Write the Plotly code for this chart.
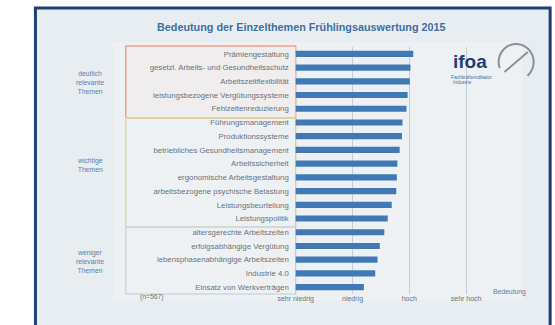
import plotly.graph_objects as go
import math

W, H = 555, 325

categories = [
    "Prämiengestaltung",
    "gesetzl. Arbeits- und Gesundheitsschutz",
    "Arbeitszeitflexibilität",
    "leistungsbezogene Vergütungssysteme",
    "Fehlzeitenreduzierung",
    "Führungsmanagement",
    "Produktionssysteme",
    "betriebliches Gesundheitsmanagement",
    "Arbeitssicherheit",
    "ergonomische Arbeitsgestaltung",
    "arbeitsbezogene psychische Belastung",
    "Leistungsbeurteilung",
    "Leistungspolitik",
    "altersgerechte Arbeitszeiten",
    "erfolgsabhängige Vergütung",
    "lebensphasenabhängige Arbeitszeiten",
    "Industrie 4.0",
    "Einsatz von Werkverträgen",
]
values = [3.07, 3.02, 3.01, 2.97, 2.95, 2.88, 2.87, 2.83, 2.79, 2.78,
          2.77, 2.69, 2.62, 2.56, 2.48, 2.44, 2.40, 2.20]
tick_vals = [1, 2, 3, 4]
tick_text = ["sehr niedrig", "niedrig", "hoch", "sehr hoch"]
group_labels = ["deutlich<br>relevante<br>Themen", "wichtige<br>Themen", "weniger<br>relevante<br>Themen"]
title_text = "Bedeutung der Einzelthemen Frühlingsauswertung 2015"


def px(x):
    return x / W


def py(y):
    return 1 - y / H


FONT = "Liberation Sans, Arial, sans-serif"

fig = go.Figure()
fig.add_trace(go.Bar(
    x=[v - 1 for v in values], y=categories, base=1, orientation="h",
    marker=dict(color="#4079b6", line=dict(width=0)),
    width=0.45, hoverinfo="skip",
))

x0_px, x1_px = 286, 520
unit = 58.5
r0 = 1 - (288 - x0_px) / unit
r1 = 1 + (x1_px - 288) / unit

fig.update_layout(
    width=W, height=H, margin=dict(l=0, r=0, t=0, b=0),
    paper_bgcolor="white", plot_bgcolor="rgba(0,0,0,0)",
    showlegend=False, font=dict(family=FONT, color="#6b7178", size=7),
    xaxis=dict(domain=[px(x0_px), px(x1_px)], range=[r0, r1],
               tickvals=tick_vals, ticktext=tick_text,
               showgrid=True, gridcolor="#c6ced5", gridwidth=1,
               zeroline=False, showline=False, ticks="",
               ticklabelstandoff=-1,
               tickfont=dict(size=7, color="#6b7178")),
    yaxis=dict(domain=[py(294), py(47)], autorange="reversed",
               categoryorder="array", categoryarray=categories,
               showgrid=False, zeroline=False, showline=False, ticks="",
               ticklabelstandoff=4, tickfont=dict(size=7.8, color="#6b7178")),
)

cx, cy, rr = 515, 62, 18
pts = []
for k in range(0, 41):
    ang = math.radians(200 - k * (250 / 40))
    pts.append((px(cx + rr * math.cos(ang)), py(cy - rr * math.sin(ang))))
path = "M " + " L ".join(f"{x:.5f},{y:.5f}" for x, y in pts)

shapes = [
    dict(type="rect", xref="paper", yref="paper", x0=px(20), x1=px(550), y0=py(340), y1=py(8),
         line=dict(color="#1d3f74", width=3), fillcolor="#e8edf1", layer="below"),
    dict(type="rect", xref="paper", yref="paper", x0=px(100), x1=px(522), y0=py(300), y1=py(42),
         line=dict(width=0), fillcolor="#edf1f4", layer="below"),
    dict(type="rect", xref="paper", yref="paper", x0=px(113), x1=px(288), y0=py(118), y1=py(46),
         line=dict(color="#e7a38f", width=1.5), fillcolor="rgba(250,228,222,0.25)", layer="below"),
    dict(type="rect", xref="paper", yref="paper", x0=px(113), x1=px(288), y0=py(227), y1=py(118),
         line=dict(color="#dcdc9c", width=1.5), fillcolor="rgba(0,0,0,0)", layer="below"),
    dict(type="rect", xref="paper", yref="paper", x0=px(113), x1=px(288), y0=py(294), y1=py(227),
         line=dict(color="#cbd8e2", width=1.5), fillcolor="rgba(0,0,0,0)", layer="below"),
    dict(type="path", xref="paper", yref="paper", path=path,
         line=dict(color="#8a9098", width=2)),
    dict(type="line", xref="paper", yref="paper", x0=px(503), x1=px(527), y0=py(72), y1=py(52),
         line=dict(color="#8a9098", width=2)),
]
fig.update_layout(shapes=shapes)

ann = [
    dict(text="<b>" + title_text + "</b>", x=px(294), y=py(27), font=dict(size=10.8, color="#3d6fa6")),
    dict(text=group_labels[0], x=px(76), y=py(83), font=dict(size=6.8, color="#5a7fa8")),
    dict(text=group_labels[1], x=px(76), y=py(165), font=dict(size=6.8, color="#5a7fa8")),
    dict(text=group_labels[2], x=px(76), y=py(261), font=dict(size=6.8, color="#5a7fa8")),
    dict(text="(n=567)", x=px(140), y=py(297), font=dict(size=6.8, color="#6b7178")),
    dict(text="Bedeutung", x=px(508), y=py(292), font=dict(size=6.8, color="#5a7fa8")),
    dict(text="<b>ifoa</b>", x=px(467), y=py(61), font=dict(size=19, color="#1d3f74")),
    dict(text="Fachkräfteindikator", x=px(469), y=py(77), font=dict(size=4.8, color="#3d6fa6")),
    dict(text="Industrie", x=px(460), y=py(83), font=dict(size=4.8, color="#3d6fa6")),
]
for a in ann:
    a.update(xref="paper", yref="paper", showarrow=False, xanchor="center", yanchor="middle")
fig.update_layout(annotations=ann)

fig.write_html("out.html")
